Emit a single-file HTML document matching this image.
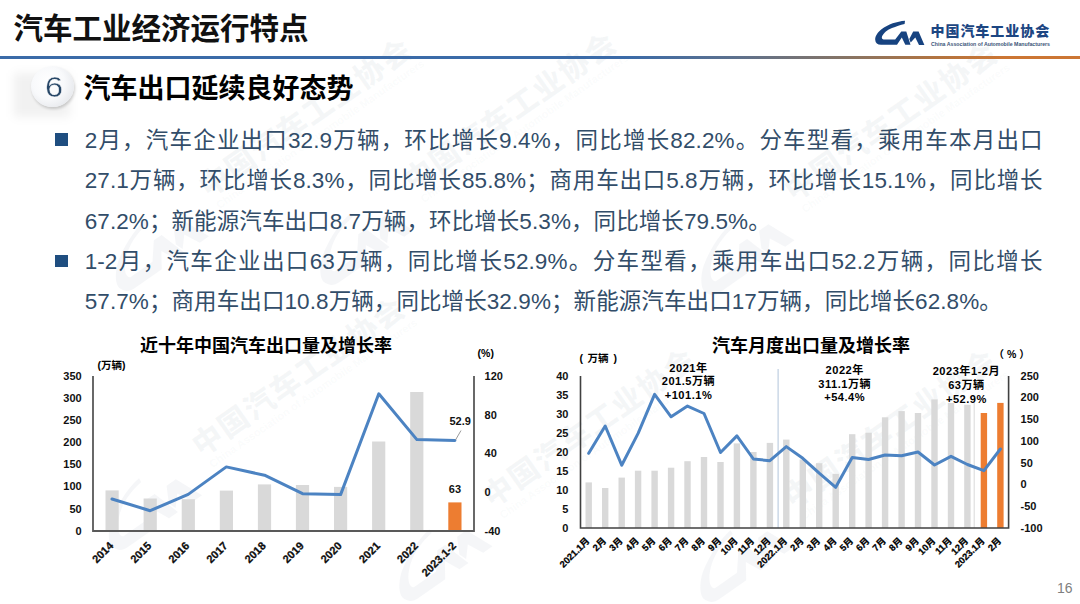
<!DOCTYPE html>
<html lang="zh-CN">
<head>
<meta charset="utf-8">
<title>汽车工业经济运行特点</title>
<style>
html,body{margin:0;padding:0;}
body{width:1080px;height:604px;position:relative;overflow:hidden;background:#fff;font-family:"Liberation Sans","Noto Sans CJK SC",sans-serif;}
.a{position:absolute;white-space:nowrap;}
#title{left:13.5px;top:11px;font-size:29.5px;line-height:36px;font-weight:bold;color:#111;}
#rule{left:0;top:56px;width:1080px;height:3px;background:linear-gradient(90deg,#3b6ba8 0%,#3b6ba8 58%,#5d718e 68%,#857466 78%,#b4743f 87%,#cc7634 93%,#cc7634 100%);}
#subbar{left:0;top:60px;width:1080px;height:58px;}
#band{left:14px;top:73px;width:56px;height:44px;background:rgba(0,0,0,0.055);filter:blur(5px);}
#circle{left:31px;top:66px;width:43px;height:41px;border-radius:50%;background:radial-gradient(circle at 40% 40%,#ffffff 0%,#f8f9fb 45%,#e6e8ec 80%,#d4d6da 100%);box-shadow:1px 2px 3px rgba(0,0,0,0.18);}
#six{left:45px;top:71px;font-size:29px;line-height:32px;color:#284868;transform:scaleX(1.12);transform-origin:0 0;-webkit-text-stroke:0.45px #f6f7f9;}
#subtitle{left:83.5px;top:72px;font-size:27px;line-height:34px;font-weight:bold;color:#000;}
.bul{left:55.3px;width:12.5px;height:12.4px;background:#1f4e80;}
#body{left:84.7px;top:121.2px;letter-spacing:0.09px;width:958px;font-size:22.5px;line-height:40.2px;color:#324d69;}
.ln{white-space:nowrap;height:40.2px;}
.ln.j{text-align:justify;text-align-last:justify;}
svg text{font-family:"Liberation Sans","Noto Sans CJK SC",sans-serif;}
.ct{font-size:18px;font-weight:bold;fill:#000;}
.ax{font-size:11px;font-weight:bold;fill:#111;}
.xs{stroke:#000;stroke-width:0.25px;}
.axr{font-size:12px;fill:#1a1a1a;}
.xl{font-size:9.3px;font-weight:bold;fill:#000;stroke:#000;stroke-width:0.25px;}
.un{font-size:10.5px;font-weight:bold;fill:#000;}
.un2{font-size:10.5px;font-weight:bold;fill:#000;}
.un3{font-size:11px;fill:#1a1a1a;}
.an{font-size:11.1px;letter-spacing:0.5px;font-weight:bold;fill:#000;}
.wmt{font-size:30px;font-weight:900;letter-spacing:1.5px;}
.wme{font-size:11px;font-weight:bold;}
.lg{font-size:14px;font-weight:900;letter-spacing:0.95px;fill:#1c4682;}
.lge{font-size:5.6px;font-weight:bold;fill:#3a5478;}
#pn{left:1057px;top:580px;font-size:14px;color:#7f7f7f;}
</style>
</head>
<body>
<svg class="a" id="wmsvg" style="left:0;top:0" width="1080" height="604" viewBox="0 0 1080 604">
<!--WM-->
<g id="wm" fill="#8fa0b4" fill-opacity="0.09">
<defs></defs>
<g transform="translate(214.5 181) rotate(-35)">
<g transform="translate(-140 -8) scale(2.1)"><path d="M29.5,0 C24,0.5 15,3.5 7,9 C2,13 -0.5,17.5 0.5,20 C1.5,22.8 3.5,23.8 6,23.8 L22,23.8 L26.8,16.6 L30.3,23.8 L35.5,23.8 L31.3,10.4 L26.8,10.4 L20.4,18.4 L8,18.4 C6.5,18.4 6.3,16.5 7,15 C9,10.5 15,5.5 22,3.6 C25,2.8 27.5,2.3 29.3,2.1 Z"/><path d="M34.3,18 L38.2,10.5 L43.6,10.5 L49.4,23.9 L44,23.9 L40.3,16.4 L35.7,21.6 Z"/></g>
<text x="-15" y="11" class="wmt">中国汽车工业协会</text>
<text x="-12" y="26" class="wme" fill-opacity="0.055">China Association of Automobile Manufacturers</text>
</g>
<g transform="translate(419 175) rotate(-35)">
<g transform="translate(-140 -8) scale(2.1)"><path d="M29.5,0 C24,0.5 15,3.5 7,9 C2,13 -0.5,17.5 0.5,20 C1.5,22.8 3.5,23.8 6,23.8 L22,23.8 L26.8,16.6 L30.3,23.8 L35.5,23.8 L31.3,10.4 L26.8,10.4 L20.4,18.4 L8,18.4 C6.5,18.4 6.3,16.5 7,15 C9,10.5 15,5.5 22,3.6 C25,2.8 27.5,2.3 29.3,2.1 Z"/><path d="M34.3,18 L38.2,10.5 L43.6,10.5 L49.4,23.9 L44,23.9 L40.3,16.4 L35.7,21.6 Z"/></g>
<text x="-15" y="11" class="wmt">中国汽车工业协会</text>
<text x="-12" y="26" class="wme" fill-opacity="0.055">China Association of Automobile Manufacturers</text>
</g>
<g transform="translate(800 185) rotate(-35)">
<g transform="translate(-140 -8) scale(2.1)"><path d="M29.5,0 C24,0.5 15,3.5 7,9 C2,13 -0.5,17.5 0.5,20 C1.5,22.8 3.5,23.8 6,23.8 L22,23.8 L26.8,16.6 L30.3,23.8 L35.5,23.8 L31.3,10.4 L26.8,10.4 L20.4,18.4 L8,18.4 C6.5,18.4 6.3,16.5 7,15 C9,10.5 15,5.5 22,3.6 C25,2.8 27.5,2.3 29.3,2.1 Z"/><path d="M34.3,18 L38.2,10.5 L43.6,10.5 L49.4,23.9 L44,23.9 L40.3,16.4 L35.7,21.6 Z"/></g>
<text x="-15" y="11" class="wmt">中国汽车工业协会</text>
<text x="-12" y="26" class="wme" fill-opacity="0.055">China Association of Automobile Manufacturers</text>
</g>
<g transform="translate(207.5 440) rotate(-35)">
<g transform="translate(-140 -8) scale(2.1)"><path d="M29.5,0 C24,0.5 15,3.5 7,9 C2,13 -0.5,17.5 0.5,20 C1.5,22.8 3.5,23.8 6,23.8 L22,23.8 L26.8,16.6 L30.3,23.8 L35.5,23.8 L31.3,10.4 L26.8,10.4 L20.4,18.4 L8,18.4 C6.5,18.4 6.3,16.5 7,15 C9,10.5 15,5.5 22,3.6 C25,2.8 27.5,2.3 29.3,2.1 Z"/><path d="M34.3,18 L38.2,10.5 L43.6,10.5 L49.4,23.9 L44,23.9 L40.3,16.4 L35.7,21.6 Z"/></g>
<text x="-15" y="11" class="wmt">中国汽车工业协会</text>
<text x="-12" y="26" class="wme" fill-opacity="0.055">China Association of Automobile Manufacturers</text>
</g>
<g transform="translate(498 491) rotate(-35)">
<g transform="translate(-140 -8) scale(2.1)"><path d="M29.5,0 C24,0.5 15,3.5 7,9 C2,13 -0.5,17.5 0.5,20 C1.5,22.8 3.5,23.8 6,23.8 L22,23.8 L26.8,16.6 L30.3,23.8 L35.5,23.8 L31.3,10.4 L26.8,10.4 L20.4,18.4 L8,18.4 C6.5,18.4 6.3,16.5 7,15 C9,10.5 15,5.5 22,3.6 C25,2.8 27.5,2.3 29.3,2.1 Z"/><path d="M34.3,18 L38.2,10.5 L43.6,10.5 L49.4,23.9 L44,23.9 L40.3,16.4 L35.7,21.6 Z"/></g>
<text x="-15" y="11" class="wmt">中国汽车工业协会</text>
<text x="-12" y="26" class="wme" fill-opacity="0.055">China Association of Automobile Manufacturers</text>
</g>
<g transform="translate(799 492) rotate(-35)">
<g transform="translate(-140 -8) scale(2.1)"><path d="M29.5,0 C24,0.5 15,3.5 7,9 C2,13 -0.5,17.5 0.5,20 C1.5,22.8 3.5,23.8 6,23.8 L22,23.8 L26.8,16.6 L30.3,23.8 L35.5,23.8 L31.3,10.4 L26.8,10.4 L20.4,18.4 L8,18.4 C6.5,18.4 6.3,16.5 7,15 C9,10.5 15,5.5 22,3.6 C25,2.8 27.5,2.3 29.3,2.1 Z"/><path d="M34.3,18 L38.2,10.5 L43.6,10.5 L49.4,23.9 L44,23.9 L40.3,16.4 L35.7,21.6 Z"/></g>
<text x="-15" y="11" class="wmt">中国汽车工业协会</text>
<text x="-12" y="26" class="wme" fill-opacity="0.055">China Association of Automobile Manufacturers</text>
</g>
</g>
<!--/WM-->
</svg>
<div class="a" id="title">汽车工业经济运行特点</div>
<div class="a" id="rule"></div>
<div class="a" id="band"></div>
<div class="a" id="circle"></div>
<div class="a" id="six">6</div>
<div class="a" id="subtitle">汽车出口延续良好态势</div>
<div class="a bul" style="top:133.2px"></div>
<div class="a bul" style="top:254.8px"></div>
<div class="a" id="body">
<div class="ln j">2月，汽车企业出口32.9万辆，环比增长9.4%，同比增长82.2%。分车型看，乘用车本月出口</div>
<div class="ln j">27.1万辆，环比增长8.3%，同比增长85.8%；商用车出口5.8万辆，环比增长15.1%，同比增长</div>
<div class="ln">67.2%；新能源汽车出口8.7万辆，环比增长5.3%，同比增长79.5%。</div>
<div class="ln j">1-2月，汽车企业出口63万辆，同比增长52.9%。分车型看，乘用车出口52.2万辆，同比增长</div>
<div class="ln">57.7%；商用车出口10.8万辆，同比增长32.9%；新能源汽车出口17万辆，同比增长62.8%。</div>
</div>
<svg class="a" id="charts" style="left:0;top:0" width="1080" height="604" viewBox="0 0 1080 604">
<text x="266" y="351.5" class="ct" text-anchor="middle">近十年中国汽车出口量及增长率</text>
<text x="811" y="351.5" class="ct" text-anchor="middle">汽车月度出口量及增长率</text>
<g id="logo" fill="#174380">
<path d="M905,20.8 C897,21.4 888,24.3 881.5,29.3 C877.5,32.4 875,36.4 875.2,39.8 C875.4,43 877.5,44.8 881,44.8 L897,44.8 L901.8,37.6 L905.3,44.8 L910.5,44.8 L906.3,31.4 L901.3,31.4 L895.2,39.4 L883.5,39.4 C882,39.4 881.5,38.3 882,36.6 C883.5,32.6 887.5,29.6 892,27.9 C896,26.4 900.5,24.9 904.6,23.9 Z"/>
<path d="M909.3,39 L913.2,31.5 L918.6,31.5 L924.4,44.9 L919,44.9 L915.3,37.4 L910.7,42.6 Z"/>
<text x="930.5" y="35.6" class="lg">中国汽车工业协会</text>
<text x="931" y="46.3" class="lge" textLength="119" lengthAdjust="spacingAndGlyphs">China Association of Automobile Manufacturers</text>
</g>
<!--CHARTS-->
<g id="c1">
<rect x="105.5" y="490.4" width="13.2" height="40.6" fill="#d9d9d9"/>
<rect x="143.6" y="498.5" width="13.2" height="32.5" fill="#d9d9d9"/>
<rect x="181.7" y="499.2" width="13.2" height="31.8" fill="#d9d9d9"/>
<rect x="219.8" y="490.6" width="13.2" height="40.4" fill="#d9d9d9"/>
<rect x="257.9" y="484.4" width="13.2" height="46.6" fill="#d9d9d9"/>
<rect x="295.9" y="485" width="13.2" height="46" fill="#d9d9d9"/>
<rect x="334" y="486.9" width="13.2" height="44.1" fill="#d9d9d9"/>
<rect x="372.1" y="441.5" width="13.2" height="89.5" fill="#d9d9d9"/>
<rect x="410.2" y="392" width="13.2" height="139" fill="#d9d9d9"/>
<rect x="448.3" y="502.4" width="13.2" height="28.6" fill="#ed7d31"/>
<polyline points="112,499 150.2,510.7 188.2,494.4 226.3,466.9 264.5,475.2 302.6,493.7 340.6,494.6 378.8,393.8 416.9,439.6 454.9,440.4" fill="none" stroke="#4c83c2" stroke-width="3" stroke-linejoin="round" stroke-linecap="round"/>
<path d="M93 376V531H474V376" fill="none" stroke="#595959" stroke-width="1.8"/>
<text x="81.7" y="534.7" class="ax" text-anchor="end">0</text>
<text x="81.7" y="512.6" class="ax" text-anchor="end">50</text>
<text x="81.7" y="490.4" class="ax" text-anchor="end">100</text>
<text x="81.7" y="468.3" class="ax" text-anchor="end">150</text>
<text x="81.7" y="446.1" class="ax" text-anchor="end">200</text>
<text x="81.7" y="424" class="ax" text-anchor="end">250</text>
<text x="81.7" y="401.8" class="ax" text-anchor="end">300</text>
<text x="81.7" y="379.7" class="ax" text-anchor="end">350</text>
<text x="484.6" y="534.9" class="ax">-40</text>
<text x="484.6" y="496.1" class="ax">0</text>
<text x="484.6" y="457.4" class="ax">40</text>
<text x="484.6" y="418.6" class="ax">80</text>
<text x="484.6" y="379.9" class="ax">120</text>
<text class="ax xs" text-anchor="end" transform="translate(114 546.5) rotate(-45)">2014</text>
<text class="ax xs" text-anchor="end" transform="translate(152.2 546.5) rotate(-45)">2015</text>
<text class="ax xs" text-anchor="end" transform="translate(190.2 546.5) rotate(-45)">2016</text>
<text class="ax xs" text-anchor="end" transform="translate(228.3 546.5) rotate(-45)">2017</text>
<text class="ax xs" text-anchor="end" transform="translate(266.5 546.5) rotate(-45)">2018</text>
<text class="ax xs" text-anchor="end" transform="translate(304.6 546.5) rotate(-45)">2019</text>
<text class="ax xs" text-anchor="end" transform="translate(342.6 546.5) rotate(-45)">2020</text>
<text class="ax xs" text-anchor="end" transform="translate(380.8 546.5) rotate(-45)">2021</text>
<text class="ax xs" text-anchor="end" transform="translate(418.9 546.5) rotate(-45)">2022</text>
<text class="ax xs" text-anchor="end" transform="translate(456.9 546.5) rotate(-45)">2023.1-2</text>
<text x="97.5" y="369" class="un">(万辆)</text>
<text x="477.6" y="357" class="un2">(%)</text>
<text x="449.5" y="425" class="ax">52.9</text>
<path d="M455.5 440 L461 430.5" stroke="#808080" stroke-width="0.8" fill="none"/>
<text x="448.8" y="493.4" class="ax">63</text>
</g>
<g id="c2">
<line x1="778.1" y1="369" x2="778.1" y2="528" stroke="#a9bdd6" stroke-width="0.9"/>
<line x1="974.2" y1="401" x2="974.2" y2="528" stroke="#d0d0d0" stroke-width="0.8"/>
<rect x="585.5" y="482.4" width="6.4" height="45.6" fill="#d9d9d9"/>
<rect x="602" y="488" width="6.4" height="40" fill="#d9d9d9"/>
<rect x="618.5" y="477.6" width="6.4" height="50.4" fill="#d9d9d9"/>
<rect x="634.9" y="470.7" width="6.4" height="57.3" fill="#d9d9d9"/>
<rect x="651.4" y="470.7" width="6.4" height="57.3" fill="#d9d9d9"/>
<rect x="667.9" y="467.7" width="6.4" height="60.3" fill="#d9d9d9"/>
<rect x="684.3" y="461.2" width="6.4" height="66.8" fill="#d9d9d9"/>
<rect x="700.8" y="457" width="6.4" height="71" fill="#d9d9d9"/>
<rect x="717.3" y="462" width="6.4" height="66" fill="#d9d9d9"/>
<rect x="733.7" y="443.4" width="6.4" height="84.6" fill="#d9d9d9"/>
<rect x="750.2" y="452" width="6.4" height="76" fill="#d9d9d9"/>
<rect x="766.7" y="442.9" width="6.4" height="85.1" fill="#d9d9d9"/>
<rect x="783.1" y="439.6" width="6.4" height="88.4" fill="#d9d9d9"/>
<rect x="799.6" y="459.5" width="6.4" height="68.5" fill="#d9d9d9"/>
<rect x="816" y="463.2" width="6.4" height="64.8" fill="#d9d9d9"/>
<rect x="832.5" y="473.9" width="6.4" height="54.1" fill="#d9d9d9"/>
<rect x="849" y="434.2" width="6.4" height="93.8" fill="#d9d9d9"/>
<rect x="865.4" y="432.7" width="6.4" height="95.3" fill="#d9d9d9"/>
<rect x="881.9" y="417.3" width="6.4" height="110.7" fill="#d9d9d9"/>
<rect x="898.4" y="411.1" width="6.4" height="116.9" fill="#d9d9d9"/>
<rect x="914.8" y="413" width="6.4" height="115" fill="#d9d9d9"/>
<rect x="931.3" y="399.4" width="6.4" height="128.6" fill="#d9d9d9"/>
<rect x="947.8" y="402.9" width="6.4" height="125.1" fill="#d9d9d9"/>
<rect x="964.2" y="404.8" width="6.4" height="123.2" fill="#d9d9d9"/>
<rect x="980.7" y="413" width="6.4" height="115" fill="#ed7d31"/>
<rect x="997.2" y="402.9" width="6.4" height="125.1" fill="#ed7d31"/>
<polyline points="588.7,453.3 605.2,426 621.7,465.2 638.1,433.4 654.6,394.4 671.1,416.8 687.5,406.1 704,413.5 720.5,452.5 736.9,435.9 753.4,459 769.9,460.7 786.3,446.6 802.8,458.3 819.2,473.2 835.7,487.3 852.2,457.5 868.6,459.5 885.1,455 901.6,455.8 918,452 934.5,465 951,456.3 967.4,464.5 983.9,470.7 1000.4,449" fill="none" stroke="#4c83c2" stroke-width="3" stroke-linejoin="round" stroke-linecap="round"/>
<path d="M580.5 376V528H1008.6V376" fill="none" stroke="#404040" stroke-width="1.6"/>
<text x="568.4" y="531.7" class="ax" text-anchor="end">0</text>
<text x="568.4" y="512.7" class="ax" text-anchor="end">5</text>
<text x="568.4" y="493.7" class="ax" text-anchor="end">10</text>
<text x="568.4" y="474.7" class="ax" text-anchor="end">15</text>
<text x="568.4" y="455.7" class="ax" text-anchor="end">20</text>
<text x="568.4" y="436.7" class="ax" text-anchor="end">25</text>
<text x="568.4" y="417.7" class="ax" text-anchor="end">30</text>
<text x="568.4" y="398.7" class="ax" text-anchor="end">35</text>
<text x="568.4" y="379.7" class="ax" text-anchor="end">40</text>
<text x="1020.6" y="531.7" class="ax">-100</text>
<text x="1020.6" y="510" class="ax">-50</text>
<text x="1020.6" y="488.3" class="ax">0</text>
<text x="1020.6" y="466.6" class="ax">50</text>
<text x="1020.6" y="444.8" class="ax">100</text>
<text x="1020.6" y="423.1" class="ax">150</text>
<text x="1020.6" y="401.4" class="ax">200</text>
<text x="1020.6" y="379.7" class="ax">250</text>
<text class="xl" text-anchor="end" transform="translate(590.2 541.5) rotate(-45)">2021.1月</text>
<text class="xl" text-anchor="end" transform="translate(606.7 541.5) rotate(-45)">2月</text>
<text class="xl" text-anchor="end" transform="translate(623.2 541.5) rotate(-45)">3月</text>
<text class="xl" text-anchor="end" transform="translate(639.6 541.5) rotate(-45)">4月</text>
<text class="xl" text-anchor="end" transform="translate(656.1 541.5) rotate(-45)">5月</text>
<text class="xl" text-anchor="end" transform="translate(672.6 541.5) rotate(-45)">6月</text>
<text class="xl" text-anchor="end" transform="translate(689 541.5) rotate(-45)">7月</text>
<text class="xl" text-anchor="end" transform="translate(705.5 541.5) rotate(-45)">8月</text>
<text class="xl" text-anchor="end" transform="translate(722 541.5) rotate(-45)">9月</text>
<text class="xl" text-anchor="end" transform="translate(738.4 541.5) rotate(-45)">10月</text>
<text class="xl" text-anchor="end" transform="translate(754.9 541.5) rotate(-45)">11月</text>
<text class="xl" text-anchor="end" transform="translate(771.4 541.5) rotate(-45)">12月</text>
<text class="xl" text-anchor="end" transform="translate(787.8 541.5) rotate(-45)">2022.1月</text>
<text class="xl" text-anchor="end" transform="translate(804.3 541.5) rotate(-45)">2月</text>
<text class="xl" text-anchor="end" transform="translate(820.7 541.5) rotate(-45)">3月</text>
<text class="xl" text-anchor="end" transform="translate(837.2 541.5) rotate(-45)">4月</text>
<text class="xl" text-anchor="end" transform="translate(853.7 541.5) rotate(-45)">5月</text>
<text class="xl" text-anchor="end" transform="translate(870.1 541.5) rotate(-45)">6月</text>
<text class="xl" text-anchor="end" transform="translate(886.6 541.5) rotate(-45)">7月</text>
<text class="xl" text-anchor="end" transform="translate(903.1 541.5) rotate(-45)">8月</text>
<text class="xl" text-anchor="end" transform="translate(919.5 541.5) rotate(-45)">9月</text>
<text class="xl" text-anchor="end" transform="translate(936 541.5) rotate(-45)">10月</text>
<text class="xl" text-anchor="end" transform="translate(952.5 541.5) rotate(-45)">11月</text>
<text class="xl" text-anchor="end" transform="translate(968.9 541.5) rotate(-45)">12月</text>
<text class="xl" text-anchor="end" transform="translate(985.4 541.5) rotate(-45)">2023.1月</text>
<text class="xl" text-anchor="end" transform="translate(1001.9 541.5) rotate(-45)">2月</text>
<text x="579.6" y="362.3" class="un">(</text><text x="587.6" y="362.3" class="un">万辆</text><text x="613.6" y="362.3" class="un">)</text>
<text x="993.5" y="357.5" class="un2">（ % ）</text>
<text x="688.5" y="371.6" class="an" text-anchor="middle">2021年</text>
<text x="688.5" y="385.2" class="an" text-anchor="middle">201.5万辆</text>
<text x="688.5" y="398.8" class="an" text-anchor="middle">+101.1%</text>
<text x="844.7" y="374.2" class="an" text-anchor="middle">2022年</text>
<text x="844.7" y="387.8" class="an" text-anchor="middle">311.1万辆</text>
<text x="844.7" y="401.4" class="an" text-anchor="middle">+54.4%</text>
<text x="966.4" y="375.4" class="an" text-anchor="middle">2023年1-2月</text>
<text x="966.4" y="389" class="an" text-anchor="middle">63万辆</text>
<text x="966.4" y="402.6" class="an" text-anchor="middle">+52.9%</text>
</g>
<!--/CHARTS-->
</svg>
<div class="a" id="pn">16</div>
</body>
</html>
